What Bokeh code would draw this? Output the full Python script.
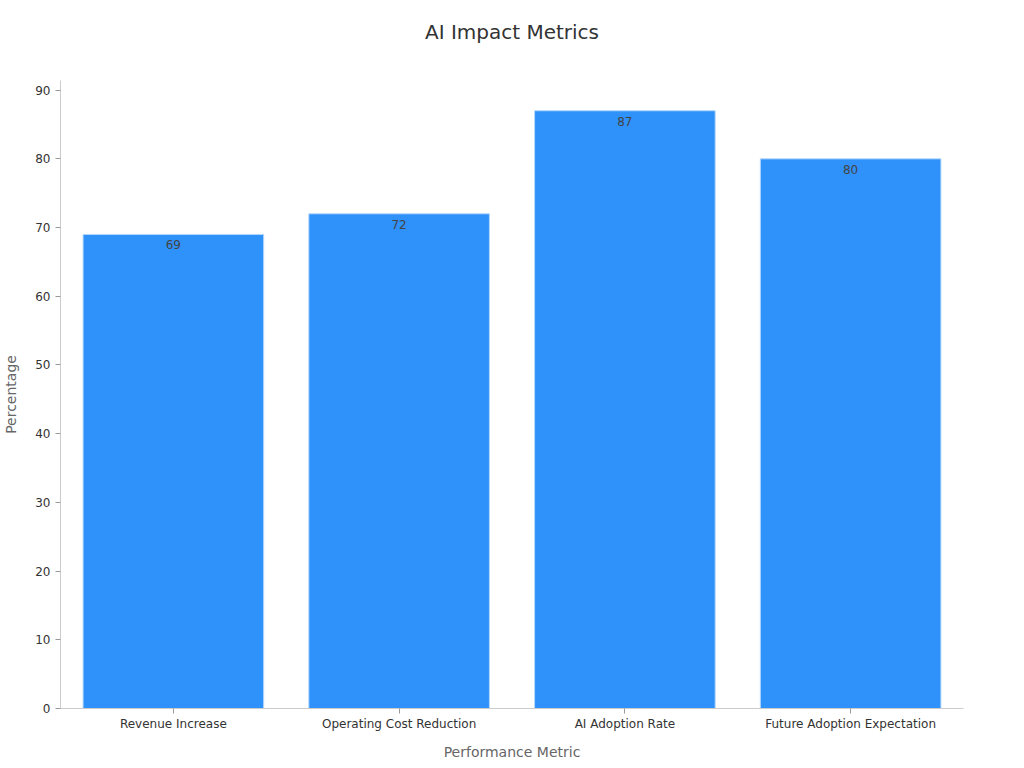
from bokeh.plotting import figure
from bokeh.models import ColumnDataSource, Range1d, FixedTicker, LabelSet, Title
from bokeh.core.properties import value
from bokeh.embed import file_html
from bokeh.resources import INLINE

title_text = "AI Impact Metrics"
categories = ["Revenue Increase", "Operating Cost Reduction", "AI Adoption Rate", "Future Adoption Expectation"]
values = [69, 72, 87, 80]
labels = [str(v) for v in values]
y_ticks = [0, 10, 20, 30, 40, 50, 60, 70, 80, 90]
y_max = 91.4

source = ColumnDataSource(data=dict(cat=categories, val=values, lab=labels))

p = figure(x_range=categories, y_range=Range1d(0, y_max), width=1016, height=762,
           output_backend="svg", toolbar_location=None,
           min_border_left=59, min_border_right=53, min_border_top=80, min_border_bottom=52)

p.vbar(x="cat", top="val", width=0.8, source=source,
       fill_color="#2f91fa", line_color="#b5d8fa", line_width=1)

lbl = LabelSet(x="cat", y="val", text="lab", source=source, text_align="center",
               text_baseline="top", y_offset=-6, text_font_size="12px",
               text_color="#444444", text_font=value("DejaVu Sans"))
p.add_layout(lbl)

# spacer between frame and title, then the title itself
p.add_layout(Title(text=" ", text_font_size="20px", standoff=8), "above")
p.add_layout(Title(text=title_text, align="center", text_font="DejaVu Sans",
                   text_font_size="20px", text_font_style="normal",
                   text_color="#333333", standoff=10), "above")

p.outline_line_color = None
p.xgrid.grid_line_color = None
p.ygrid.grid_line_color = None
p.background_fill_color = "white"
p.border_fill_color = "white"

p.yaxis.ticker = FixedTicker(ticks=y_ticks)
p.yaxis.minor_tick_line_color = None
p.xaxis.minor_tick_line_color = None

for ax in (p.xaxis[0], p.yaxis[0]):
    ax.axis_line_color = "#cccccc"
    ax.major_tick_line_color = "#999999"
    ax.major_tick_in = 0
    ax.major_tick_out = 5
    ax.major_label_text_font = "DejaVu Sans"
    ax.major_label_text_font_size = "12px"
    ax.major_label_text_color = "#333333"
    ax.axis_label_text_font = "DejaVu Sans"
    ax.axis_label_text_font_size = "14px"
    ax.axis_label_text_font_style = "normal"
    ax.axis_label_text_color = "#666666"

p.xaxis.axis_label = "Performance Metric"
p.yaxis.axis_label = "Percentage"
p.xaxis.major_label_standoff = 3
p.xaxis.axis_label_standoff = 10
p.yaxis.axis_label_standoff = 13
p.x_range.range_padding = 0

open("out.html", "w").write(file_html(p, INLINE))
